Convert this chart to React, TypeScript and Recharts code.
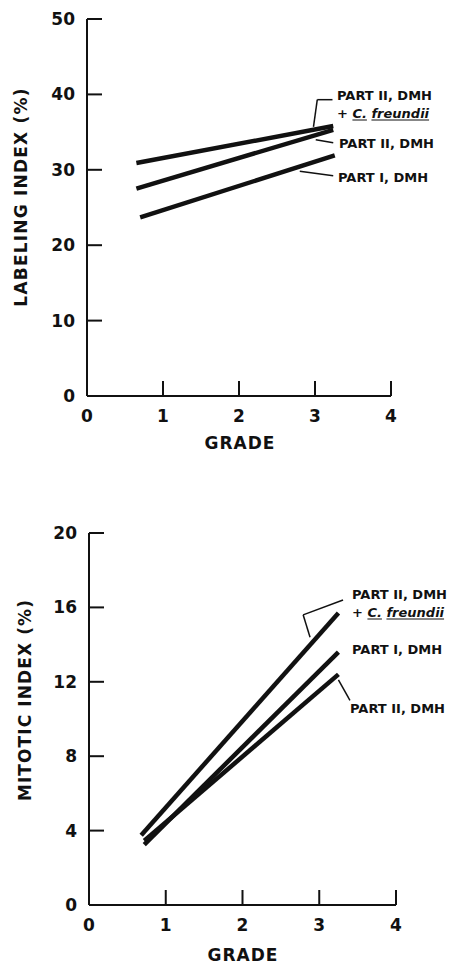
import { LineChart, Line, XAxis, YAxis, ReferenceLine } from "recharts";

const FONT = '"DejaVu Sans", Verdana, sans-serif';
const INK = "#111";

const gradeTicks = [0, 1, 2, 3, 4];
const labelingTicks = [0, 10, 20, 30, 40, 50];
const mitoticTicks = [0, 4, 8, 12, 16, 20];

// labeling index, start/end of each fitted line
const liGradeCf = [0.65, 3.24];
const liValueCf = [30.9, 35.8];
const liGradePart2 = [0.65, 3.24];
const liValuePart2 = [27.5, 35.3];
const liGradePart1 = [0.7, 3.26];
const liValuePart1 = [23.7, 31.9];

// mitotic index
const miGradeCf = [0.68, 3.25];
const miValueCf = [3.75, 15.7];
const miGradePart1 = [0.72, 3.25];
const miValuePart1 = [3.25, 13.6];
const miGradePart2 = [0.72, 3.25];
const miValuePart2 = [3.45, 12.4];

// leader lines (grade, value) pointing from labels to lines
const liLeaderCf = [[2.98, 35.7], [3.03, 39.3], [3.23, 39.3]];
const liLeaderPart2 = [[3.01, 34.0], [3.24, 33.6]];
const liLeaderPart1 = [[2.8, 29.8], [3.24, 29.2]];
const miLeaderCf = [[2.88, 14.4], [2.79, 15.6], [3.31, 16.4]];
const miLeaderPart2 = [[3.25, 12.1], [3.4, 11.0]];

const pts = (g: number[], v: number[]) =>
  g.map((grade, i) => ({ grade, value: v[i] }));

function YTick({ x, y, payload }: any) {
  return (
    <g>
      <line x1={x} y1={y} x2={x + 15} y2={y} stroke={INK} strokeWidth={2} />
      <text
        x={x - 12}
        y={y}
        textAnchor="end"
        dominantBaseline="central"
        fontFamily={FONT}
        fontWeight="bold"
        fontSize={17}
        fill={INK}
      >
        {payload.value}
      </text>
    </g>
  );
}

function XTick({ x, y, payload }: any) {
  return (
    <g>
      <line x1={x} y1={y} x2={x} y2={y - 15} stroke={INK} strokeWidth={2} />
      <text
        x={x}
        y={y + 20}
        textAnchor="middle"
        dominantBaseline="central"
        fontFamily={FONT}
        fontWeight="bold"
        fontSize={17}
        fill={INK}
      >
        {payload.value}
      </text>
    </g>
  );
}

function leaderSegments(path: number[][], key: string) {
  const segs = [];
  for (let i = 0; i < path.length - 1; i++) {
    segs.push(
      <ReferenceLine
        key={key + i}
        segment={[
          { x: path[i][0], y: path[i][1] },
          { x: path[i + 1][0], y: path[i + 1][1] },
        ]}
        stroke={INK}
        strokeWidth={1.5}
        ifOverflow="visible"
      />
    );
  }
  return segs;
}

type Series = { key: string; data: { grade: number; value: number }[] };

function Panel({
  height,
  margin,
  yTicks,
  series,
  leaders,
}: {
  height: number;
  margin: { top: number; right: number; left: number; bottom: number };
  yTicks: number[];
  series: Series[];
  leaders: number[][][];
}) {
  return (
    <LineChart width={451} height={height} margin={margin}>
      <XAxis
        type="number"
        dataKey="grade"
        domain={[0, 4]}
        ticks={gradeTicks}
        interval={0}
        height={34}
        tickSize={0}
        tickMargin={0}
        tickLine={false}
        axisLine={{ stroke: INK, strokeWidth: 2 }}
        tick={(p: any) => <XTick {...p} />}
      />
      <YAxis
        type="number"
        dataKey="value"
        domain={[0, yTicks[yTicks.length - 1]]}
        ticks={yTicks}
        interval={0}
        width={60}
        tickSize={0}
        tickMargin={0}
        tickLine={false}
        axisLine={{ stroke: INK, strokeWidth: 2 }}
        tick={(p: any) => <YTick {...p} />}
      />
      {series.map((s) => (
        <Line
          key={s.key}
          data={s.data}
          dataKey="value"
          type="linear"
          stroke={INK}
          strokeWidth={4.5}
          dot={false}
          activeDot={false}
          isAnimationActive={false}
        />
      ))}
      {leaders.map((l, i) => leaderSegments(l, "ld" + i))}
    </LineChart>
  );
}

const labelStyle: React.CSSProperties = {
  position: "absolute",
  fontFamily: FONT,
  fontWeight: "bold",
  fontSize: 13,
  lineHeight: "15px",
  color: INK,
  whiteSpace: "nowrap",
  transform: "translateY(-50%)",
};

const species: React.CSSProperties = {
  fontStyle: "italic",
  textDecoration: "underline",
  textUnderlineOffset: "2px",
};

function Tag({ left, top, children }: { left: number; top: number; children: any }) {
  return <div style={{ ...labelStyle, left, top }}>{children}</div>;
}

function CfTag({ left, top }: { left: number; top: number }) {
  return (
    <div style={{ ...labelStyle, left, top }}>
      + <span style={species}>C.</span> <span style={species}>freundii</span>
    </div>
  );
}

const titleStyle: React.CSSProperties = {
  position: "absolute",
  fontFamily: FONT,
  fontWeight: "bold",
  fontSize: 17,
  lineHeight: "17px",
  color: INK,
  whiteSpace: "nowrap",
};

export default function App() {
  return (
    <div
      style={{
        position: "absolute",
        top: 0,
        left: 0,
        width: 451,
        height: 965,
        background: "#fff",
        overflow: "hidden",
      }}
    >
      <div style={{ position: "absolute", top: 0, left: 0 }}>
        <Panel
          height={430}
          margin={{ top: 19, right: 60, left: 27, bottom: 0 }}
          yTicks={labelingTicks}
          series={[
            { key: "cf", data: pts(liGradeCf, liValueCf) },
            { key: "p2", data: pts(liGradePart2, liValuePart2) },
            { key: "p1", data: pts(liGradePart1, liValuePart1) },
          ]}
          leaders={[liLeaderCf, liLeaderPart2, liLeaderPart1]}
        />
      </div>
      <div style={{ position: "absolute", top: 500, left: 0 }}>
        <Panel
          height={439}
          margin={{ top: 33, right: 55, left: 29, bottom: 0 }}
          yTicks={mitoticTicks}
          series={[
            { key: "cf", data: pts(miGradeCf, miValueCf) },
            { key: "p1", data: pts(miGradePart1, miValuePart1) },
            { key: "p2", data: pts(miGradePart2, miValuePart2) },
          ]}
          leaders={[miLeaderCf, miLeaderPart2]}
        />
      </div>

      {/* axis titles */}
      <div
        style={{
          ...titleStyle,
          left: 21,
          top: 197,
          letterSpacing: 1.2,
          transform: "translate(-50%, -50%) rotate(-90deg)",
        }}
      >
        LABELING INDEX (%)
      </div>
      <div style={{ ...titleStyle, left: 240, top: 443, letterSpacing: 1, transform: "translate(-50%, -50%)" }}>
        GRADE
      </div>
      <div
        style={{
          ...titleStyle,
          left: 25,
          top: 700,
          letterSpacing: 1.1,
          transform: "translate(-50%, -50%) rotate(-90deg)",
        }}
      >
        MITOTIC INDEX (%)
      </div>
      <div style={{ ...titleStyle, left: 243, top: 955, letterSpacing: 1, transform: "translate(-50%, -50%)" }}>
        GRADE
      </div>

      {/* line labels, top panel */}
      <Tag left={337} top={95}>PART II, DMH</Tag>
      <CfTag left={337} top={113} />
      <Tag left={339} top={143}>PART II, DMH</Tag>
      <Tag left={338} top={177}>PART I, DMH</Tag>

      {/* line labels, bottom panel */}
      <Tag left={352} top={594}>PART II, DMH</Tag>
      <CfTag left={352} top={612} />
      <Tag left={352} top={649}>PART I, DMH</Tag>
      <Tag left={350} top={708}>PART II, DMH</Tag>
    </div>
  );
}
